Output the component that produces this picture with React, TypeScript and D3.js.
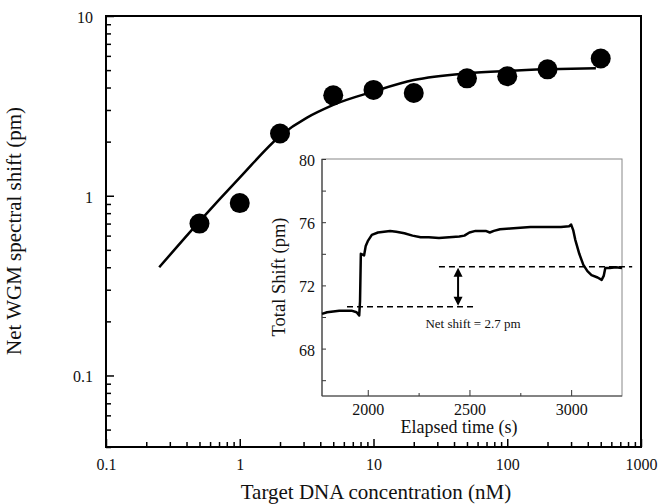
import React, { Component } from 'react';
import * as d3 from 'd3';

// main plot: binding curve
const concentrations = [0.5, 1, 2, 5, 10, 20, 50, 100, 200, 500];
const netShift = [0.7, 0.91, 2.22, 3.62, 3.88, 3.73, 4.5, 4.62, 5.05, 5.8];
const fitConc = [0.25, 0.5, 1, 2, 5, 10, 20, 50, 100, 200, 460];
const fitShift = [0.4, 0.72, 1.26, 2.15, 3.2, 3.8, 4.4, 4.8, 4.95, 5.05, 5.12];
const xMajor = [0.1, 1, 10, 100, 1000];
const yMajor = [0.1, 1, 10];

// inset: sensorgram
const elapsedTime = [1775, 1800, 1830, 1860, 1890, 1920, 1945, 1958, 1962, 1966, 1975, 1982, 1990, 2000, 2020, 2050, 2080, 2110, 2140, 2180, 2220, 2260, 2300, 2350, 2400, 2450, 2475, 2500, 2530, 2580, 2600, 2620, 2650, 2700, 2750, 2800, 2850, 2900, 2950, 2990, 3000, 3010, 3020, 3040, 3060, 3080, 3100, 3130, 3150, 3160, 3168, 3190, 3220, 3250];
const totalShift = [70.2, 70.3, 70.35, 70.4, 70.4, 70.4, 70.3, 70.1, 71.0, 74.0, 73.95, 73.9, 74.5, 74.8, 75.2, 75.35, 75.4, 75.45, 75.4, 75.3, 75.15, 75.05, 75.05, 75.0, 75.05, 75.1, 75.15, 75.35, 75.45, 75.45, 75.35, 75.45, 75.55, 75.6, 75.65, 75.7, 75.7, 75.7, 75.7, 75.75, 75.85, 75.5, 74.9, 74.0, 73.3, 72.9, 72.65, 72.5, 72.35, 72.6, 73.1, 73.1, 73.15, 73.1];
const insetXTicks = [2000, 2500, 3000];
const insetXMinor = [2250, 2750];
const insetYTicks = [68, 72, 76, 80];
const insetYMinor = [66, 70, 74, 78];
const baselineLevel = 70.65;
const finalLevel = 73.18;
const arrowTime = 2444;

const FONT = '"Liberation Serif", "Times New Roman", serif';

class App extends Component {
  componentDidMount() {
    this.draw();
  }

  draw() {
    const svg = d3.select('#chart');
    svg.selectAll('*').remove();

    const x = d3.scaleLog().domain([0.1, 1000]).range([106, 641]);
    const y = d3.scaleLog().domain([0.04, 10]).range([447, 16]);

    const isMajor = (v) => Math.abs(Math.log10(v) - Math.round(Math.log10(v))) < 1e-6;
    const xMinor = x.ticks().filter((v) => !isMajor(v));
    const yMinor = y.ticks().filter((v) => !isMajor(v));

    // bottom axis, ticks point inward
    const gx = svg.append('g').attr('transform', 'translate(0,447)');
    gx.append('g').call(d3.axisBottom(x).tickValues(xMinor).tickSize(-5).tickSizeOuter(0).tickFormat(() => ''));
    gx.append('g').call(d3.axisBottom(x).tickValues(xMajor).tickSize(-8).tickSizeOuter(0).tickPadding(12).tickFormat((d, i) => String(xMajor[i])));
    gx.selectAll('.domain').remove();

    const gy = svg.append('g').attr('transform', 'translate(106,0)');
    gy.append('g').call(d3.axisLeft(y).tickValues(yMinor).tickSize(-5).tickSizeOuter(0).tickFormat(() => ''));
    gy.append('g').call(d3.axisLeft(y).tickValues(yMajor).tickSize(-8).tickSizeOuter(0).tickPadding(13).tickFormat((d, i) => String(yMajor[i])));
    gy.selectAll('.domain').remove();
    gy.selectAll('text').attr('dy', '0.4em');

    svg.selectAll('.tick line').attr('stroke', '#000').attr('stroke-width', 1.5);
    svg.selectAll('.tick text').attr('font-family', FONT).attr('font-size', 16).attr('fill', '#111');

    svg.append('rect')
      .attr('x', 106).attr('y', 16)
      .attr('width', 641 - 106).attr('height', 447 - 16)
      .attr('fill', 'none').attr('stroke', '#000').attr('stroke-width', 2);

    // fit curve
    const fitData = fitConc.map((c, i) => ({ c: c, s: fitShift[i] }));
    const fitLine = d3.line().x((d) => x(d.c)).y((d) => y(d.s)).curve(d3.curveMonotoneX);
    svg.append('path')
      .datum(fitData)
      .attr('d', fitLine)
      .attr('fill', 'none').attr('stroke', '#000').attr('stroke-width', 2.5);

    // data points
    const pts = concentrations.map((c, i) => ({ c: c, s: netShift[i] }));
    svg.append('g')
      .selectAll('circle')
      .data(pts)
      .join('circle')
      .attr('cx', (d) => x(d.c))
      .attr('cy', (d) => y(d.s))
      .attr('r', 10)
      .attr('fill', '#000');

    // axis titles
    svg.append('text')
      .attr('x', 376).attr('y', 499)
      .attr('text-anchor', 'middle')
      .attr('font-family', FONT).attr('font-size', 21).attr('fill', '#111')
      .text('Target DNA concentration (nM)');
    svg.append('text')
      .attr('transform', 'translate(21,231) rotate(-90)')
      .attr('text-anchor', 'middle')
      .attr('font-family', FONT).attr('font-size', 21).attr('fill', '#111')
      .text('Net WGM spectral shift (pm)');

    // ---- inset ----
    const xi = d3.scaleLinear().domain([1775, 3250]).range([322, 622]);
    const yi = d3.scaleLinear().domain([65, 80]).range([396, 159]);
    const inset = svg.append('g');

    inset.append('rect')
      .attr('x', 322).attr('y', 159)
      .attr('width', 300).attr('height', 396 - 159)
      .attr('fill', '#fff').attr('stroke', '#888').attr('stroke-width', 1);

    const ix = inset.append('g').attr('transform', 'translate(0,396)');
    ix.append('g').call(d3.axisBottom(xi).tickValues(insetXMinor).tickSize(-3).tickSizeOuter(0).tickFormat(() => ''));
    ix.append('g').call(d3.axisBottom(xi).tickValues(insetXTicks).tickSize(-6).tickSizeOuter(0).tickPadding(8).tickFormat((d) => String(d)));
    ix.selectAll('.domain').remove();

    const iy = inset.append('g').attr('transform', 'translate(322,0)');
    iy.append('g').call(d3.axisLeft(yi).tickValues(insetYMinor).tickSize(-4).tickSizeOuter(0).tickFormat(() => ''));
    iy.append('g').call(d3.axisLeft(yi).tickValues(insetYTicks).tickSize(-4).tickSizeOuter(0).tickPadding(7).tickFormat((d) => String(d)));
    iy.selectAll('.domain').remove();
    iy.selectAll('text').attr('dy', '0.4em');

    inset.selectAll('.tick line').attr('stroke', '#333').attr('stroke-width', 1);
    inset.selectAll('.tick text').attr('font-family', FONT).attr('font-size', 16).attr('fill', '#111');

    inset.append('line').attr('x1', 322).attr('x2', 322).attr('y1', 159).attr('y2', 396).attr('stroke', '#444').attr('stroke-width', 1.2);
    inset.append('line').attr('x1', 322).attr('x2', 622).attr('y1', 396).attr('y2', 396).attr('stroke', '#444').attr('stroke-width', 1.2);

    // trace
    const trace = elapsedTime.map((t, i) => ({ t: t, v: totalShift[i] }));
    inset.append('path')
      .datum(trace)
      .attr('d', d3.line().x((d) => xi(d.t)).y((d) => yi(d.v)))
      .attr('fill', 'none').attr('stroke', '#000').attr('stroke-width', 2.5)
      .attr('stroke-linejoin', 'round');

    // dashed levels
    inset.append('line')
      .attr('x1', xi(1898)).attr('x2', xi(2528))
      .attr('y1', yi(baselineLevel)).attr('y2', yi(baselineLevel))
      .attr('stroke', '#000').attr('stroke-width', 1.5).attr('stroke-dasharray', '6,4');
    inset.append('line')
      .attr('x1', xi(2350)).attr('x2', xi(3300))
      .attr('y1', yi(finalLevel)).attr('y2', yi(finalLevel))
      .attr('stroke', '#000').attr('stroke-width', 1.5).attr('stroke-dasharray', '6,4');

    // double arrow
    const ax = xi(arrowTime);
    const aTop = yi(finalLevel) + 1;
    const aBot = yi(baselineLevel) - 1;
    inset.append('line')
      .attr('x1', ax).attr('x2', ax).attr('y1', aTop + 6).attr('y2', aBot - 6)
      .attr('stroke', '#000').attr('stroke-width', 2);
    inset.append('path')
      .attr('d', `M${ax},${aTop} L${ax - 4.5},${aTop + 9} L${ax + 4.5},${aTop + 9} Z`)
      .attr('fill', '#000');
    inset.append('path')
      .attr('d', `M${ax},${aBot} L${ax - 4.5},${aBot - 9} L${ax + 4.5},${aBot - 9} Z`)
      .attr('fill', '#000');

    inset.append('text')
      .attr('x', 473).attr('y', 328)
      .attr('text-anchor', 'middle')
      .attr('font-family', FONT).attr('font-size', 13).attr('fill', '#111')
      .text('Net shift = 2.7 pm');

    inset.append('text')
      .attr('x', 459).attr('y', 433)
      .attr('text-anchor', 'middle')
      .attr('font-family', FONT).attr('font-size', 18).attr('fill', '#111')
      .text('Elapsed time (s)');
    inset.append('text')
      .attr('transform', 'translate(285,277) rotate(-90)')
      .attr('text-anchor', 'middle')
      .attr('font-family', FONT).attr('font-size', 18.5).attr('fill', '#111')
      .text('Total Shift (pm)');
  }

  render() {
    return (
      <svg id="chart" width="671" height="504"
        style={{ position: 'absolute', left: 0, top: 0, background: '#fff' }}></svg>
    );
  }
}

export default App;
